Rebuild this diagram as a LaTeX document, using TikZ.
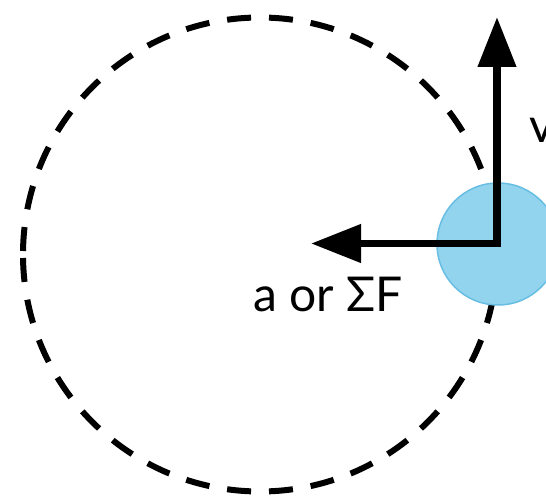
\documentclass[tikz,border=0pt]{standalone}
\usepackage{fontspec}
\setmainfont{Lato}
\usetikzlibrary{arrows.meta}
\definecolor{ball}{RGB}{146,212,238}
\definecolor{ballrim}{RGB}{104,190,226}
\tikzset{
  orbit/.style={line width=6pt,dash pattern=on 24pt off 17.98pt,dash phase=38.48pt},
  vec/.style={line width=7.5pt,>={Triangle[length=50pt,width=37pt]},<->},
  lbl/.style={font=\fontsize{48}{48}\selectfont,inner sep=0pt,anchor=base west}
}
\begin{document}
\begin{tikzpicture}[x=1pt,y=1pt]
\useasboundingbox(0,0)rectangle(546,498);
\coordinate(O)at(260,243.5);
\coordinate(L)at(23,243.5);
\draw[orbit](L)arc[start angle=180,end angle=0,radius=237];
\draw[orbit](L)arc[start angle=180,end angle=360,radius=237];
\node[circle,fill=ball,draw=ballrim,line width=1.5pt,minimum size=122pt,inner sep=0pt](M)at(498,254){};
\coordinate(P)at(497,254.5);
\coordinate(V)at(497,481);
\coordinate(A)at(311,254.5);
\draw[vec](A)--(P)--(V);
\node[lbl](av)at(253,186){a or ΣF};
\node[lbl](vv)at(529,355){v};
\end{tikzpicture}
\end{document}
